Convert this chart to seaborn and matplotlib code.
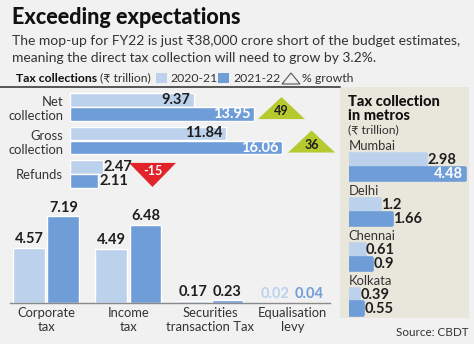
import numpy as np
import pandas as pd
import matplotlib
matplotlib.use("Agg")
import matplotlib.pyplot as plt
import seaborn as sns
from matplotlib.patches import Polygon, Rectangle
from matplotlib.lines import Line2D

# ---------------- data ----------------
years = ["2020-21", "2021-22"]

coll_cats = ["Net\ncollection", "Gross\ncollection", "Refunds"]
coll_2021 = [9.37, 11.84, 2.47]
coll_2122 = [13.95, 16.06, 2.11]
coll_growth = [49, 36, -15]

tax_cats = ["Corporate\ntax", "Income\ntax", "Securities\ntransaction Tax", "Equalisation\nlevy"]
tax_2021 = [4.57, 4.49, 0.17, 0.02]
tax_2122 = [7.19, 6.48, 0.23, 0.04]

metro_cats = ["Mumbai", "Delhi", "Chennai", "Kolkata"]
metro_2021 = [2.98, 1.2, 0.61, 0.39]
metro_2122 = [4.48, 1.66, 0.9, 0.55]

title = "Exceeding expectations"
subtitle = ["The mop-up for FY22 is just \u20b938,000 crore short of the budget estimates,",
            "meaning the direct tax collection will need to grow by 3.2%."]
source = "Source: CBDT"

# ---------------- style ----------------
LIGHT = "#bcd2ec"
DARK = "#6f9dd8"
GREEN = "#b6ca2f"
RED = "#e2232a"
BG = "#f1f1f1"
PANEL = "#e9e7dc"
TXT = "#1e1e1e"
LAB = "#333333"
FAM = ["Lato", "DejaVu Sans"]

sns.set_theme(style="white")
plt.rcParams["font.family"] = FAM

W, H = 474, 344
fig = plt.figure(figsize=(W / 100, H / 100), dpi=100, facecolor=BG)


def box(x0, y0, x1, y1):
    return [x0 / W, 1 - y1 / H, (x1 - x0) / W, (y1 - y0) / H]


def fx(x):
    return x / W


def fy(y):
    return 1 - y / H


def fmt(v):
    return f"{v:g}"


# ---------------- header ----------------
fig.text(fx(12), fy(18), title, fontsize=15.5, fontweight="black", color="#111", va="center", ha="left")
fig.text(fx(12), fy(41), subtitle[0], fontsize=10, color=LAB, va="center", ha="left")
fig.text(fx(12), fy(58), subtitle[1], fontsize=10, color=LAB, va="center", ha="left")

ly = fy(78)
fig.text(fx(16), ly, "Tax collections", fontsize=8.8, fontweight="bold", color="#111", va="center")
fig.text(fx(100), ly, "(\u20b9 trillion)", fontsize=8.8, color=LAB, va="center")
fig.patches.append(Rectangle((fx(156), fy(83)), 11 / W, 10 / H, transform=fig.transFigure,
                             facecolor=LIGHT, edgecolor="none"))
fig.text(fx(170), ly, years[0], fontsize=8.8, color=LAB, va="center")
fig.patches.append(Rectangle((fx(218), fy(83)), 11 / W, 10 / H, transform=fig.transFigure,
                             facecolor=DARK, edgecolor="none"))
fig.text(fx(233), ly, years[1], fontsize=8.8, color=LAB, va="center")
fig.patches.append(Polygon([[fx(282), fy(84)], [fx(300), fy(84)], [fx(291), fy(73)]],
                           closed=True, transform=fig.transFigure, facecolor="none",
                           edgecolor="#555", linewidth=0.8))
fig.text(fx(302), ly, "% growth", fontsize=8.8, color=LAB, va="center")
fig.lines.append(Line2D([0, fx(340)], [fy(87), fy(87)], transform=fig.transFigure,
                        color="#555", linewidth=1.4))

# ---------------- top: collections (horizontal) ----------------
ax1 = fig.add_axes(box(70, 87, 340, 193))
ax1.set_facecolor("none")
df1 = pd.DataFrame({
    "cat": coll_cats * 2,
    "val": coll_2021 + coll_2122,
    "year": [years[0]] * 3 + [years[1]] * 3,
})
sns.barplot(data=df1, y="cat", x="val", hue="year", orient="h", palette=[LIGHT, DARK],
            width=0.84, gap=0.05, legend=False, ax=ax1, saturation=1)
ax1.set_xlim(0, 270 / 13.2)
ax1.set_ylim(2.57, -0.6)
ax1.set_xlabel("")
ax1.set_ylabel("")
ax1.set_xticks([])
ax1.tick_params(axis="y", length=0, pad=5, labelsize=9.4, labelcolor=LAB)
for s in ax1.spines.values():
    s.set_visible(False)

for ci, cont in enumerate(ax1.containers):
    for bar in cont:
        v = bar.get_width()
        yc = bar.get_y() + bar.get_height() / 2
        if v > 5:
            ax1.text(v - 0.27, yc, f"{v:.2f}", ha="right", va="center", fontsize=10.5,
                     fontweight="bold", color="white" if ci == 1 else TXT)
        else:
            ax1.text(v + 0.1, yc, f"{v:.2f}", ha="left", va="center", fontsize=10.5,
                     fontweight="bold", color=TXT)

tri_off = [2.07, 2.24, 3.78]
half_w = 1.78
for i, g in enumerate(coll_growth):
    cx = max(coll_2021[i], coll_2122[i]) + tri_off[i]
    if g >= 0:
        pts = [[cx - half_w, i + 0.36], [cx + half_w, i + 0.36], [cx, i - 0.30]]
        ty, col, tc = i + 0.12, GREEN, TXT
    else:
        pts = [[cx - half_w, i - 0.33], [cx + half_w, i - 0.33], [cx, i + 0.39]]
        ty, col, tc = i - 0.08, RED, "white"
    ax1.add_patch(Polygon(pts, closed=True, facecolor=col, edgecolor="none", clip_on=False))
    ax1.text(cx, ty, f"{g}", ha="center", va="center", fontsize=9, fontweight="bold", color=tc)

# ---------------- bottom: tax types (vertical) ----------------
ax2 = fig.add_axes(box(10, 195, 330, 303))
ax2.set_facecolor("none")
df2 = pd.DataFrame({
    "cat": tax_cats * 2,
    "val": tax_2021 + tax_2122,
    "year": [years[0]] * 4 + [years[1]] * 4,
})
sns.barplot(data=df2, x="cat", y="val", hue="year", palette=[LIGHT, DARK],
            width=0.84, gap=0.08, legend=False, ax=ax2, saturation=1)
ax2.set_xlim(-0.44, 3.46)
ax2.set_ylim(0, 108 / 12.1)
ax2.set_xlabel("")
ax2.set_ylabel("")
ax2.set_yticks([])
ax2.tick_params(axis="x", length=0, pad=3, labelsize=9.4, labelcolor=LAB)
for s in ["left", "right", "top"]:
    ax2.spines[s].set_visible(False)
ax2.spines["bottom"].set_color("#8a8a8a")
ax2.spines["bottom"].set_linewidth(1)

for ci, cont in enumerate(ax2.containers):
    for bar in cont:
        v = bar.get_height()
        xc = bar.get_x() + bar.get_width() / 2
        col = TXT if v >= 0.1 else (LIGHT if ci == 0 else DARK)
        ax2.text(xc, v + 0.12, f"{v:.2f}", ha="center", va="bottom", fontsize=10.5,
                 fontweight="bold", color=col)

# ---------------- right: metros ----------------
axbg = fig.add_axes(box(340, 87, 469, 318))
axbg.set_facecolor(PANEL)
axbg.set_xticks([])
axbg.set_yticks([])
for s in axbg.spines.values():
    s.set_visible(False)
fig.text(fx(348), fy(102), "Tax collection", ha="left", va="center",
         fontsize=10.5, fontweight="black", color="#111")
fig.text(fx(348), fy(116), "in metros", ha="left", va="center",
         fontsize=10.5, fontweight="black", color="#111")
fig.text(fx(348), fy(130), "(\u20b9 trillion)", ha="left", va="center",
         fontsize=8.8, color=LAB)

ax3 = fig.add_axes(box(349, 140, 470, 318))
ax3.set_facecolor("none")
df3 = pd.DataFrame({
    "cat": metro_cats * 2,
    "val": metro_2021 + metro_2122,
    "year": [years[0]] * 4 + [years[1]] * 4,
})
sns.barplot(data=df3, y="cat", x="val", hue="year", orient="h", palette=[LIGHT, DARK],
            width=0.6, gap=0.1, legend=False, ax=ax3, saturation=1)
ax3.set_xlim(0, 121 / 25.9)
ax3.set_ylim(3.36, -0.6)
ax3.set_xlabel("")
ax3.set_ylabel("")
ax3.set_xticks([])
ax3.set_yticks([])
for s in ax3.spines.values():
    s.set_visible(False)
for p in ax3.patches:
    p.set_edgecolor(p.get_facecolor())
    p.set_linewidth(2.6)
    p.set_joinstyle("round")

for i, c in enumerate(metro_cats):
    ax3.text(-0.02, i - 0.47, c, ha="left", va="center", fontsize=9.4, color=LAB)

for ci, cont in enumerate(ax3.containers):
    for bar in cont:
        v = bar.get_width()
        yc = bar.get_y() + bar.get_height() / 2
        if v > 4:
            ax3.text(v - 0.08, yc, fmt(v), ha="right", va="center", fontsize=10.5,
                     fontweight="bold", color="white")
        else:
            ax3.text(v + 0.05, yc, fmt(v), ha="left", va="center", fontsize=10.5,
                     fontweight="bold", color=TXT)

fig.text(fx(468), fy(333), source, ha="right", va="center", fontsize=8.4, color=LAB)

fig.savefig("out.png", dpi=100, facecolor=BG)
